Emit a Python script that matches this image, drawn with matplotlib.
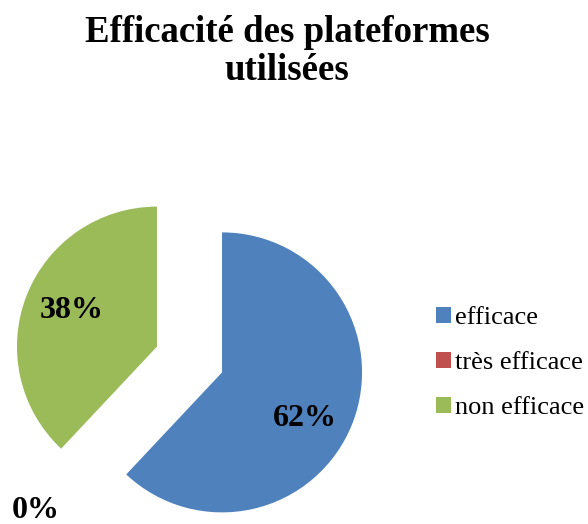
import matplotlib
matplotlib.use("Agg")
import matplotlib.pyplot as plt

# chart data
labels = ["efficace", "très efficace", "non efficace"]
values = [62, 0, 38]
colors = ["#4F81BD", "#C0504D", "#9BBB59"]
explode = [0.25, 0.25, 0.25]
title = "Efficacité des plateformes\nutilisées"

W, H = 588, 524
R_PX = 140.0          # pie radius in pixels
CX, CY = 189.5, 359.5  # pie centre, pixels from top-left


def px_to_data(px, py):
    return ((px - CX) / R_PX, (CY - py) / R_PX)


plt.rcParams["font.family"] = ["Liberation Serif", "DejaVu Serif"]

fig = plt.figure(figsize=(W / 100, H / 100), dpi=100)
ax = fig.add_axes([0, 0, 1, 1])

wedges, texts, autotexts = ax.pie(
    values,
    colors=colors,
    explode=explode,
    startangle=90,
    counterclock=False,
    autopct="%.0f%%",
    pctdistance=0.67,
    wedgeprops={"linewidth": 0},
    textprops={"fontsize": 23, "fontweight": "bold", "color": "black"},
    frame=True,
)
ax.set_xlim(-CX / R_PX, (W - CX) / R_PX)
ax.set_ylim(-(H - CY) / R_PX, CY / R_PX)
ax.set_aspect("equal")
ax.axis("off")

# label placement as in the original (Excel-style)
autotexts[0].set_position(px_to_data(305, 419))
autotexts[1].set_position(px_to_data(36, 511))
autotexts[2].set_position(px_to_data(72, 311))

ax.legend(
    wedges, labels,
    loc="center left",
    bbox_to_anchor=(436 / W, 1 - 363 / H),
    bbox_transform=fig.transFigure,
    frameon=False,
    fontsize=19,
    handlelength=0.55,
    handleheight=0.55,
    handletextpad=0.18,
    labelspacing=0.87,
    borderpad=0,
    borderaxespad=0,
)

fig.text(287 / W, 1 - 15 / H, title, ha="center", va="top",
         fontsize=26.5, fontweight="bold", linespacing=1.12)

fig.savefig("out.png", dpi=100)
